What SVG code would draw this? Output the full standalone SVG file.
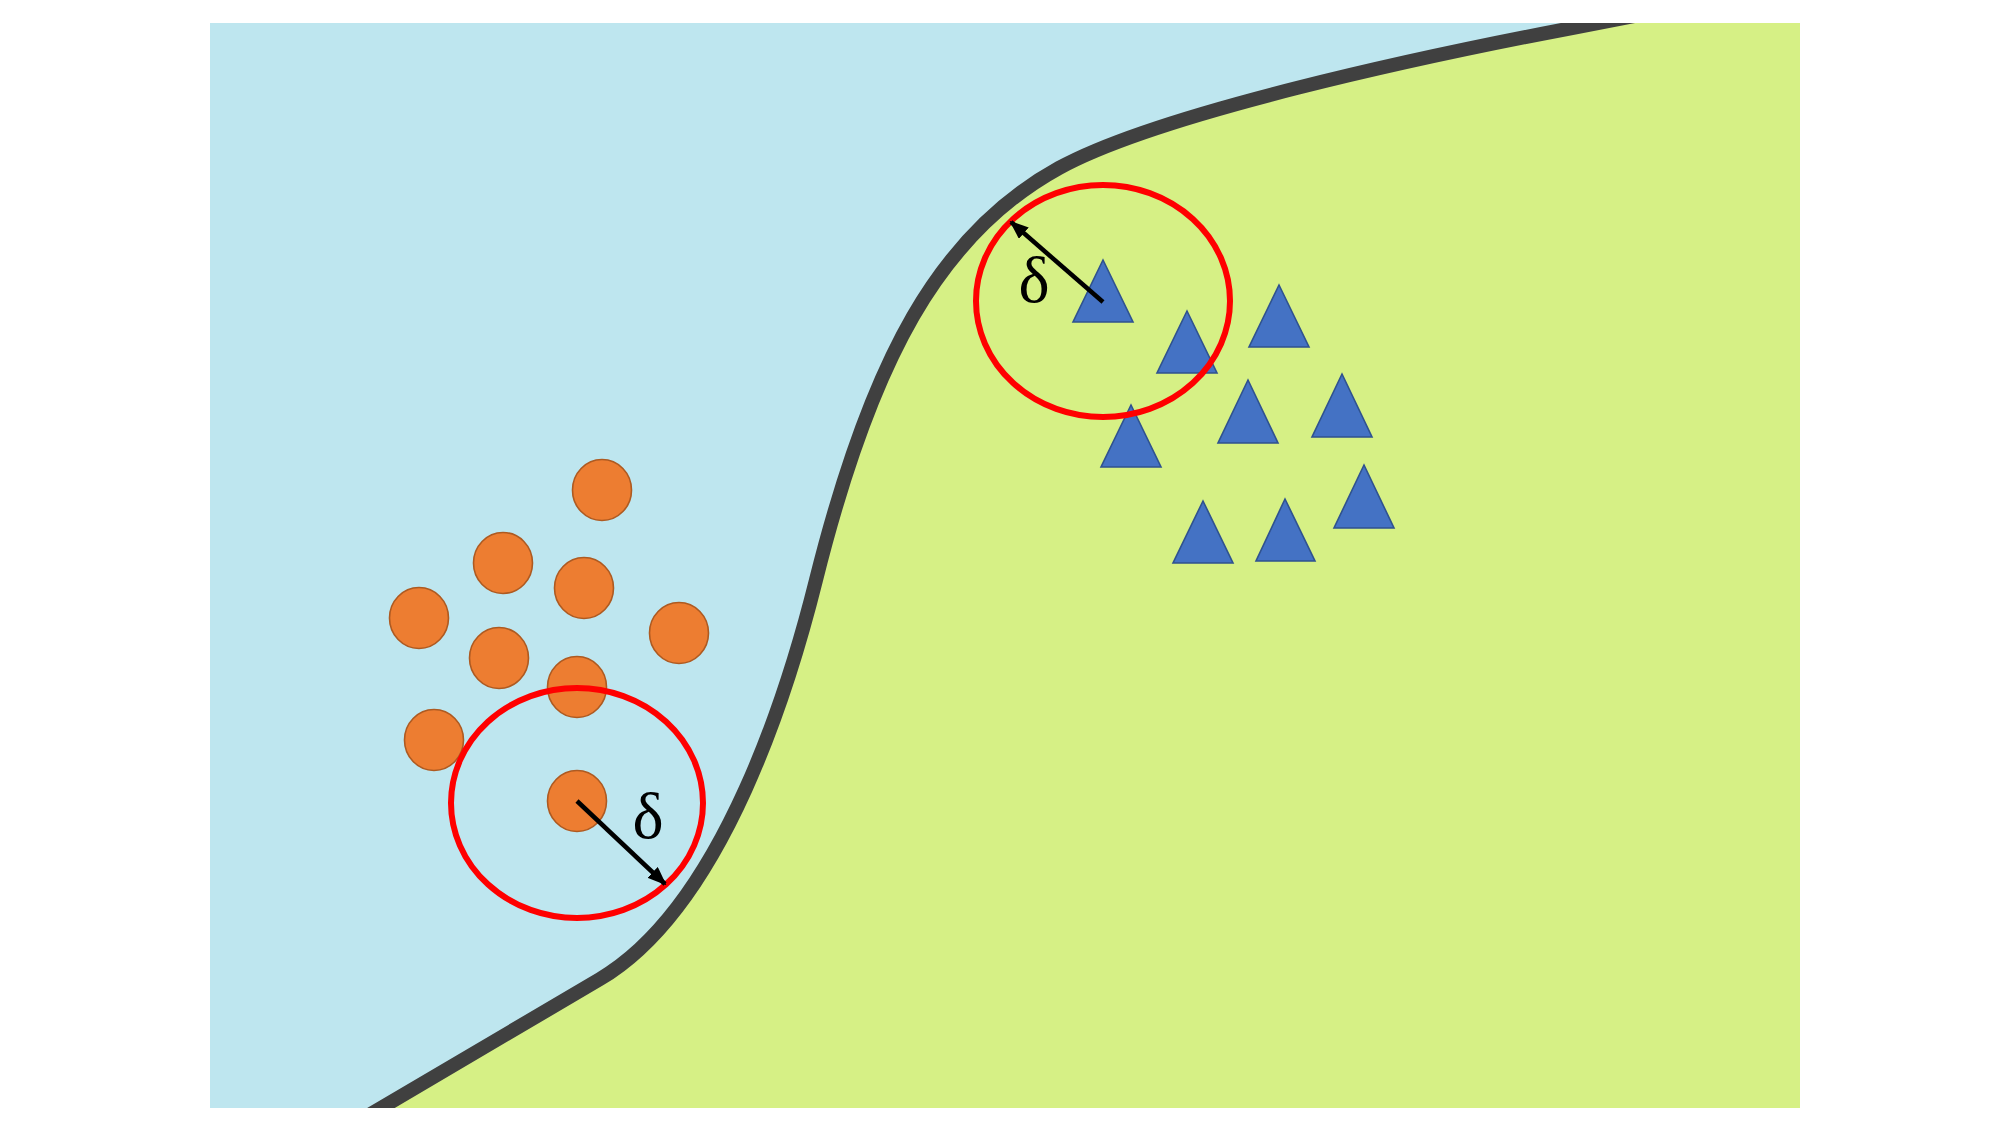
<svg xmlns="http://www.w3.org/2000/svg" width="2000" height="1125" viewBox="0 0 2000 1125">
  <style>
    .pt { fill: #ED7D31; stroke: #AE5A21; stroke-width: 1.6; }
    .tri { fill: #4472C4; stroke: #2F528F; stroke-width: 1.6; }
    .ring { fill: none; stroke: #FF0000; stroke-width: 6; }
    .arr { stroke: #000000; stroke-width: 4.5; fill: none; marker-end: url(#ah); }
    .lbl { font-family: "Liberation Serif", "Times New Roman", serif; font-size: 66px; fill: #000000; text-anchor: middle; }
  </style>
  <defs>
    <clipPath id="frame"><rect x="210" y="23" width="1590" height="1085"/></clipPath>
    <marker id="ah" markerWidth="19" markerHeight="15" refX="17" refY="7.5" orient="auto" markerUnits="userSpaceOnUse" viewBox="0 0 19 15">
      <path d="M0,0 L19,7.5 L0,15 Z" fill="#000000"/>
    </marker>
    <path id="curve" d="M330,1138 L600,979 C725,905 791,680 816,580 C871,360 939,234 1059,168 C1159,113 1422,56.5 1572,28 L1650,13"/>
  </defs>
  <rect x="0" y="0" width="2000" height="1125" fill="#FFFFFF"/>
  <g id="regions" clip-path="url(#frame)">
    <rect x="210" y="23" width="1590" height="1085" fill="#BEE6EF"/>
    <path id="green-region" fill="#D6F085" d="M330,1138 L600,979 C725,905 791,680 816,580 C871,360 939,234 1059,168 C1159,113 1422,56.5 1572,28 L1650,13 L1800,13 L1800,1138 Z"/>
    <use id="boundary" href="#curve" fill="none" stroke="#404040" stroke-width="14" stroke-linejoin="round"/>
  </g>
  <g id="circles">
    <ellipse id="c1" class="pt" cx="602" cy="490" rx="29.5" ry="30.5"/>
    <ellipse id="c2" class="pt" cx="503" cy="563" rx="29.5" ry="30.5"/>
    <ellipse id="c3" class="pt" cx="584" cy="588" rx="29.5" ry="30.5"/>
    <ellipse id="c4" class="pt" cx="419" cy="618" rx="29.5" ry="30.5"/>
    <ellipse id="c5" class="pt" cx="679" cy="633" rx="29.5" ry="30.5"/>
    <ellipse id="c6" class="pt" cx="499" cy="658" rx="29.5" ry="30.5"/>
    <ellipse id="c7" class="pt" cx="577" cy="687" rx="29.5" ry="30.5"/>
    <ellipse id="c8" class="pt" cx="434" cy="740" rx="29.5" ry="30.5"/>
    <ellipse id="c9" class="pt" cx="577" cy="801" rx="29.5" ry="30.5"/>
  </g>
  <g id="triangles">
    <polygon id="t1" class="tri" points="1103,260 1133,322 1073,322"/>
    <polygon id="t2" class="tri" points="1187,311 1217,373 1157,373"/>
    <polygon id="t3" class="tri" points="1279,285 1309,347 1249,347"/>
    <polygon id="t4" class="tri" points="1131,405 1161,467 1101,467"/>
    <polygon id="t5" class="tri" points="1248,380 1278,443 1218,443"/>
    <polygon id="t6" class="tri" points="1342,374 1372,437 1312,437"/>
    <polygon id="t7" class="tri" points="1203,501 1233,563 1173,563"/>
    <polygon id="t8" class="tri" points="1285,499 1315,561 1256,561"/>
    <polygon id="t9" class="tri" points="1364,465 1394,528 1334,528"/>
  </g>
  <g id="neighbourhoods">
    <ellipse id="ring-bottom" class="ring" cx="577" cy="803" rx="126" ry="115"/>
    <ellipse id="ring-top" class="ring" cx="1103" cy="301" rx="127" ry="116"/>
  </g>
  <g id="connectors">
    <line class="arr" x1="577" y1="801" x2="665" y2="884"/>
    <line class="arr" x1="1103" y1="302" x2="1011" y2="222"/>
  </g>
  <g id="labels">
    <text class="lbl" x="648" y="838">δ</text>
    <text class="lbl" x="1034" y="302">δ</text>
  </g>
</svg>
